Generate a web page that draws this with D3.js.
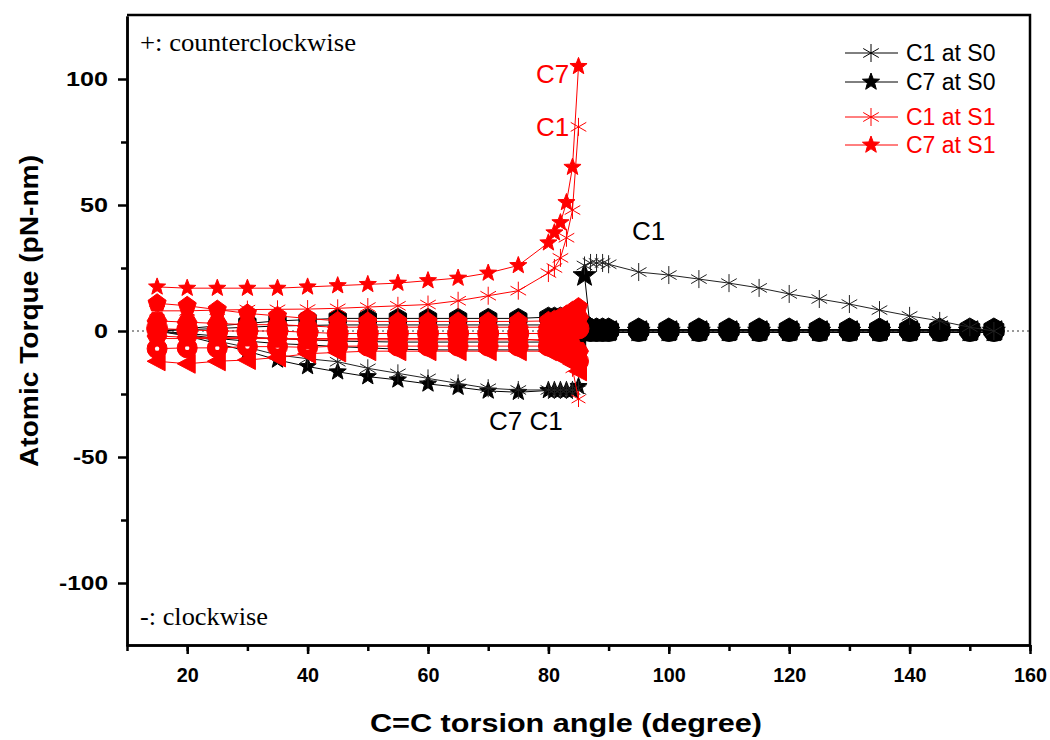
<!DOCTYPE html>
<html lang="en">
<head>
  <meta charset="UTF-8">
  <title>Atomic Torque vs torsion angle</title>
  <style type="text/css">
    body{
      margin: 0;
      background: #fff;
      font-family: Arial, "Liberation Sans", sans-serif;
    }
    .axis text{
      font-size: 21px;
      font-weight: bold;
      fill: black;
    }
    .axis path,
    .axis line{
      stroke: black;
      stroke-width: 2.5px;
    }
    .title{
      font-size: 26px;
      font-weight: bold;
      fill: black;
    }
    .note{
      font-family: "Liberation Serif", "Times New Roman", serif;
      font-size: 25px;
      fill: black;
    }
    .tag{
      font-size: 26px;
    }
    .legend text{
      font-size: 23px;
    }
  </style>
  <script type="text/javascript" src="https://cdn.jsdelivr.net/npm/d3@7/dist/d3.min.js"></script>
</head>
<body>
<script type="text/javascript">
  // torsion angles of the sweep (both states up to 85), S0 keeps going after the flip
  var angleA = [15, 20, 25, 30, 35, 40, 45, 50, 55, 60, 65, 70, 75, 80, 81, 82, 83, 84, 85];
  var angleB = [86, 87, 88, 89, 90, 95, 100, 105, 110, 115, 120, 125, 130, 135, 140, 145, 150, 154];

  // labelled atoms
  var c1S0a = [0, -1.5, -4, -6.5, -9.5, -11, -12.2, -14.8, -16.8, -18.8, -20.8, -22.7, -23.4, -23.4, -23.4, -23.4, -23.4, -23.4, -23.4];
  var c1S0b = [26, 27, 27, 27, 26.5, 23.4, 22.2, 20.6, 19, 17.1, 14.7, 12.7, 10.7, 8.3, 6, 4, 1.5, 0];
  var c7S0a = [0, -2, -5, -8, -11.5, -14.1, -16.2, -18.1, -19.4, -21, -22.3, -23.8, -24.3, -23.6, -23.6, -23.6, -23.6, -23.6, -22];
  var c7S0b = [22, 0, 0, 0, 0, 0, 0, 0, 0, 0, 0, 0, 0, 0, 0, 0, 0, 0];
  var c1S1 = [8, 8, 8.3, 8.5, 8.6, 8.7, 9, 9.5, 10, 10.5, 12, 14, 16, 23, 25, 29, 37, 48, 81];
  var c7S1 = [17.5, 17, 17, 17, 17, 17.5, 18, 18.5, 19, 20, 21, 23, 26, 35, 39, 43, 51, 65, 105];

  // the other atoms (not in the legend), S0
  var hexS0a = [0, 1, 2, 3, 4, 4.5, 5, 5, 5, 5, 5, 5, 5, 5.5, 5.5, 5.5, 5.5, 5.5, 4];
  var circS0a = [0, 0.5, 1, 1.5, 2, 2.2, 2.4, 2.4, 2.4, 2.4, 2.4, 2.4, 2.4, 2.4, 2.4, 2.4, 2, 2, 1];
  var pentS0a = [0, -1, -2, -2.5, -3, -3.5, -4, -4.2, -4.4, -4.4, -4.4, -4.4, -4.4, -4.4, -4.4, -4.4, -4, -4, -3];
  var triS0a = [0, -1.5, -3, -4, -5, -5.5, -6.2, -6.7, -7.2, -7.5, -7.5, -7.5, -7.5, -7.5, -7.5, -7.5, -7, -7, -5];
  var hexS0b = [2, 0.6, 0.6, 0.6, 0.6, 0.6, 0.6, 0.6, 0.6, 0.6, 0.6, 0.6, 0.6, 0.6, 0.6, 0.6, 0.6, 0.6];
  var circS0b = [1, 0, 0, 0, 0, 0, 0, 0, 0, 0, 0, 0, 0, 0, 0, 0, 0, 0];
  var pentS0b = [3, -0.6, -0.6, -0.6, -0.6, -0.6, -0.6, -0.6, -0.6, -0.6, -0.6, -0.6, -0.6, -0.6, -0.6, -0.6, -0.6, -0.6];
  var triS0b = [0, 0.3, 0.3, 0.3, 0.3, 0.3, 0.3, 0.3, 0.3, 0.3, 0.3, 0.3, 0.3, 0.3, 0.3, 0.3, 0.3, 0.3];

  // the other atoms, S1
  var pentS1 = [11, 10, 8.5, 7, 6, 5, 4, 3.8, 3.8, 3.8, 3.8, 3.8, 3.8, 4, 4.5, 5.5, 6.5, 8, 9.5];
  var hexS1 = [4, 3.5, 3, 2.5, 2.5, 2, 1.5, 1.5, 1.5, 1.5, 1.5, 1.5, 1.5, 1.5, 2, 3, 3.5, 4.5, 5.5];
  var circS1 = [1, 0.5, 0, 0, 0, -0.5, -1, -1, -1, -1, -1, -1, -1, -1, -1, -1, -1, 0, 1];
  var hex2S1 = [-2, -2.5, -2.5, -2.5, -3, -3.5, -3.5, -3.5, -3.5, -3.5, -3.5, -3.5, -3.5, -3.5, -4, -4.5, -5, -6, -8];
  var dotS1 = [-7, -6.7, -6.7, -6.2, -6.2, -6.5, -6, -6, -6, -6, -6, -6, -6, -6, -6.5, -7, -8, -10, -12];
  var triS1 = [-12, -13, -12, -11.5, -10.5, -9, -8.5, -8, -8, -8, -8, -8, -8, -8, -9, -10, -11, -13, -16];
  var astS1 = [-3, -3, -3, -3, -3, -3, -3, -3, -3, -3, -3, -3, -3, -4, -5, -7, -10, -15, -27];

  var xTicks = [20, 40, 60, 80, 100, 120, 140, 160];
  var yTicks = [-100, -50, 0, 50, 100];

  var width = 1050, height = 740;
  var plot = {left: 127, right: 1030, top: 15, bottom: 645};

  var svg = d3.select('body')
    .append('svg')
    .attr('width', width)
    .attr('height', height);

  var xScale = d3.scaleLinear().domain([10, 160]).range([plot.left, plot.right]);
  var yScale = d3.scaleLinear().domain([-125, 125]).range([646, 16]);

  function zip(xs, ys){
    return xs.map(function(v, i){ return [v, ys[i]]; });
  }

  // marker outlines, r = outer radius in px
  function shapePath(shape, r){
    var pts = [], i, a;
    if (shape === 'asterisk'){
      var s = '';
      [90, 30, -30].forEach(function(deg){
        var t = deg * Math.PI / 180;
        s += 'M' + (-r * Math.cos(t)) + ',' + (-r * Math.sin(t)) + 'L' + (r * Math.cos(t)) + ',' + (r * Math.sin(t));
      });
      return s;
    }
    if (shape === 'circle'){
      return 'M' + r + ',0A' + r + ',' + r + ' 0 1,1 ' + (-r) + ',0A' + r + ',' + r + ' 0 1,1 ' + r + ',0Z';
    }
    if (shape === 'star'){
      for (i = 0; i < 10; i++){
        a = -Math.PI / 2 + i * Math.PI / 5;
        var rr = i % 2 ? r * 0.42 : r;
        pts.push([rr * Math.cos(a), rr * Math.sin(a)]);
      }
    } else if (shape === 'pentagon' || shape === 'hexagon' || shape === 'flathex'){
      var n = shape === 'pentagon' ? 5 : 6;
      var start = shape === 'flathex' ? 0 : -Math.PI / 2;
      for (i = 0; i < n; i++){
        a = start + i * 2 * Math.PI / n;
        pts.push([r * Math.cos(a), r * Math.sin(a)]);
      }
    } else if (shape === 'ltri'){
      pts = [[-r, 0], [r * 0.8, -r * 0.95], [r * 0.8, r * 0.95]];
    }
    return 'M' + pts.join('L') + 'Z';
  }

  var black = '#000', red = '#ff0000';

  var series = [
    {x: angleA, y: triS0a, color: black, shape: 'ltri', r: 9},
    {x: angleB, y: triS0b, color: black, shape: 'ltri', r: 10},
    {x: angleA, y: pentS0a, color: black, shape: 'pentagon', r: 9},
    {x: angleB, y: pentS0b, color: black, shape: 'pentagon', r: 10},
    {x: angleA, y: circS0a, color: black, shape: 'circle', r: 8},
    {x: angleB, y: hexS0b, color: black, shape: 'hexagon', r: 11.5},
    {x: angleA, y: hexS0a, color: black, shape: 'hexagon', r: 10},
    {x: angleB, y: c7S0b, color: black, shape: 'star', r: 12},
    {x: angleB, y: circS0b, color: black, shape: 'circle', r: 10.5},
    {x: angleA, y: c7S0a, color: black, shape: 'star', r: 9},
    {x: angleA, y: c1S0a, color: '#222', shape: 'asterisk', r: 9},
    {x: angleB, y: c1S0b, color: '#222', shape: 'asterisk', r: 9},
    {x: angleA, y: astS1, color: red, shape: 'asterisk', r: 8},
    {x: angleA, y: triS1, color: red, shape: 'ltri', r: 10},
    {x: angleA, y: dotS1, color: red, shape: 'circle', r: 10, dot: true},
    {x: angleA, y: hex2S1, color: red, shape: 'flathex', r: 10},
    {x: angleA, y: circS1, color: red, shape: 'circle', r: 10.5},
    {x: angleA, y: hexS1, color: red, shape: 'flathex', r: 10},
    {x: angleA, y: pentS1, color: red, shape: 'pentagon', r: 9.5},
    {x: angleA, y: c1S1, color: red, shape: 'asterisk', r: 9},
    {x: angleA, y: c7S1, color: red, shape: 'star', r: 9}
  ];

  // zero reference line
  svg.append('line')
    .attr('x1', plot.left).attr('x2', plot.right)
    .attr('y1', yScale(0)).attr('y2', yScale(0))
    .attr('stroke', '#333')
    .attr('stroke-width', 1)
    .attr('stroke-dasharray', '2,3');

  var line = d3.line()
    .x(function(d){ return xScale(d[0]); })
    .y(function(d){ return yScale(d[1]); });

  series.forEach(function(s){
    var pts = zip(s.x, s.y);
    var g = svg.append('g');
    g.append('path')
      .attr('d', line(pts))
      .attr('fill', 'none')
      .attr('stroke', s.color)
      .attr('stroke-width', 1);
    g.selectAll('path.mark')
      .data(pts)
      .enter().append('path')
      .attr('class', 'mark')
      .attr('transform', function(d){ return 'translate(' + xScale(d[0]) + ',' + yScale(d[1]) + ')'; })
      .attr('d', shapePath(s.shape, s.r))
      .attr('fill', s.shape === 'asterisk' ? 'none' : s.color)
      .attr('stroke', s.color)
      .attr('stroke-width', 1);
    if (s.dot){
      g.selectAll('circle.dot')
        .data(pts.slice(0, 9))
        .enter().append('circle')
        .attr('class', 'dot')
        .attr('cx', function(d){ return xScale(d[0]); })
        .attr('cy', function(d){ return yScale(d[1]); })
        .attr('r', 2.2)
        .attr('fill', '#fff');
    }
  });

  // axes
  svg.append('g')
    .attr('class', 'axis')
    .attr('transform', 'translate(0,' + plot.bottom + ')')
    .call(d3.axisBottom(xScale).tickValues(d3.range(10, 161, 10)).tickSize(6).tickSizeOuter(0).tickFormat(''));
  var xAxis = svg.append('g')
    .attr('class', 'axis')
    .attr('transform', 'translate(0,' + plot.bottom + ')')
    .call(d3.axisBottom(xScale).tickValues(xTicks).tickSize(9).tickSizeOuter(0).tickPadding(13));
  xAxis.selectAll('text')
    .attr('textLength', function(d){ return String(d).length * 11; })
    .attr('lengthAdjust', 'spacingAndGlyphs');

  svg.append('g')
    .attr('class', 'axis')
    .attr('transform', 'translate(' + plot.left + ',0)')
    .call(d3.axisLeft(yScale).tickValues([-75, -25, 25, 75]).tickSize(6).tickSizeOuter(0).tickFormat(''));
  var yAxis = svg.append('g')
    .attr('class', 'axis')
    .attr('transform', 'translate(' + plot.left + ',0)')
    .call(d3.axisLeft(yScale).tickValues(yTicks).tickSize(9).tickSizeOuter(0).tickPadding(10));
  yAxis.selectAll('text')
    .text(function(d){ return String(d); })
    .attr('textLength', function(d){ return String(Math.abs(d)).length * 14 + (d < 0 ? 7 : 0); })
    .attr('lengthAdjust', 'spacingAndGlyphs');

  // top and right frame
  svg.append('path')
    .attr('d', 'M' + plot.left + ',' + plot.top + 'H' + plot.right + 'V' + plot.bottom)
    .attr('fill', 'none')
    .attr('stroke', 'black')
    .attr('stroke-width', 2.5);

  svg.append('text')
    .attr('class', 'title')
    .attr('x', 566)
    .attr('y', 732)
    .attr('text-anchor', 'middle')
    .attr('textLength', 392)
    .attr('lengthAdjust', 'spacingAndGlyphs')
    .text('C=C torsion angle (degree)');

  svg.append('text')
    .attr('class', 'title')
    .attr('transform', 'translate(38,311) rotate(-90)')
    .attr('text-anchor', 'middle')
    .attr('textLength', 312)
    .attr('lengthAdjust', 'spacingAndGlyphs')
    .text('Atomic Torque (pN-nm)');

  svg.append('text').attr('class', 'note').attr('x', 140).attr('y', 51)
    .attr('textLength', 216).attr('lengthAdjust', 'spacingAndGlyphs').text('+: counterclockwise');
  svg.append('text').attr('class', 'note').attr('x', 140).attr('y', 625)
    .attr('textLength', 128).attr('lengthAdjust', 'spacingAndGlyphs').text('-: clockwise');

  svg.append('text').attr('class', 'tag').attr('x', 536).attr('y', 83).attr('fill', red).text('C7');
  svg.append('text').attr('class', 'tag').attr('x', 536).attr('y', 136).attr('fill', red).text('C1');
  svg.append('text').attr('class', 'tag').attr('x', 632).attr('y', 240).attr('fill', black).text('C1');
  svg.append('text').attr('class', 'tag').attr('x', 489).attr('y', 430).attr('fill', black).text('C7 C1');

  // legend
  var legendRows = [
    {label: 'C1 at S0', color: black, shape: 'asterisk', y: 53},
    {label: 'C7 at S0', color: black, shape: 'star', y: 82},
    {label: 'C1 at S1', color: red, shape: 'asterisk', y: 117},
    {label: 'C7 at S1', color: red, shape: 'star', y: 145}
  ];

  var legend = svg.selectAll('.legend')
    .data(legendRows)
    .enter().append('g')
    .attr('class', 'legend')
    .attr('transform', function(d){ return 'translate(0,' + d.y + ')'; });

  legend.append('line')
    .attr('x1', 845).attr('x2', 898)
    .attr('stroke', function(d){ return d.color; })
    .attr('stroke-width', 1);

  legend.append('path')
    .attr('transform', 'translate(871,0)')
    .attr('d', function(d){ return shapePath(d.shape, 9); })
    .attr('fill', function(d){ return d.shape === 'asterisk' ? 'none' : d.color; })
    .attr('stroke', function(d){ return d.color; });

  legend.append('text')
    .attr('x', 906)
    .attr('dy', '0.36em')
    .attr('fill', function(d){ return d.color; })
    .text(function(d){ return d.label; });
</script>
</body>
</html>
